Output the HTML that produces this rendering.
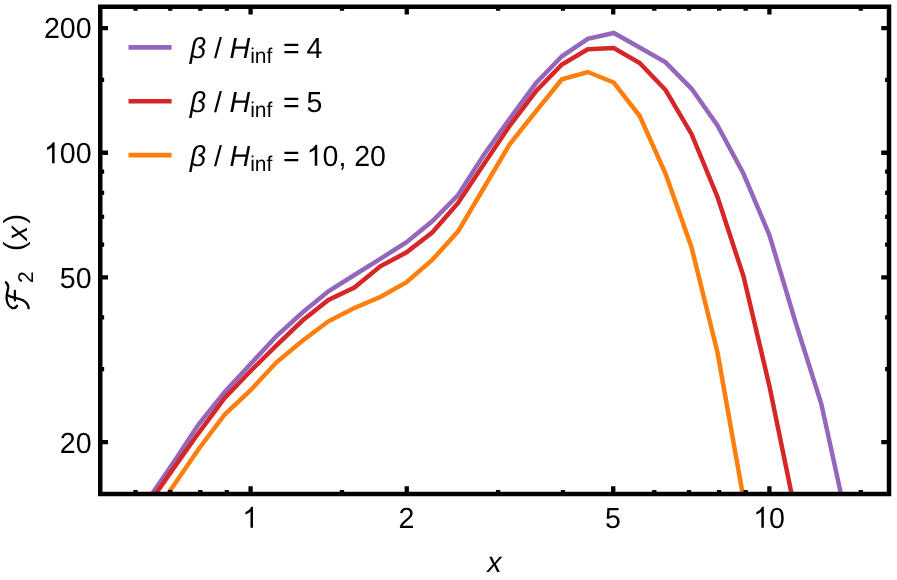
<!DOCTYPE html><html><head><meta charset="utf-8"><style>html,body{margin:0;padding:0;background:#fff}svg{display:block}text{text-rendering:geometricPrecision;font-family:"Liberation Sans",sans-serif;fill:#000}</style></head><body>
<svg width="897" height="580" viewBox="0 0 897 580">
<rect width="897" height="580" fill="#fff"/>
<defs><clipPath id="c"><rect x="100.25" y="6.75" width="788.75" height="487.25"/></clipPath></defs>
<g clip-path="url(#c)" fill="none" stroke-width="4.5" stroke-linejoin="miter" stroke-linecap="butt">
<polyline stroke="#9467bd" points="146.8,501.5 172.8,463.4 198.7,424.3 224.7,392.0 250.6,364.0 276.5,336.0 302.5,312.5 328.4,291.3 354.4,275.0 380.3,258.8 406.2,242.5 432.2,221.3 458.1,195.0 484.1,154.5 510.0,118.4 535.9,83.3 561.9,56.3 587.8,38.8 613.8,33.0 639.7,47.5 665.6,62.3 691.6,88.8 717.5,125.5 743.5,173.8 769.4,235.0 795.3,321.5 821.3,403.8 847.2,522.5"/>
<polyline stroke="#d62728" points="146.8,506.5 172.8,469.4 198.7,432.8 224.7,398.0 250.6,371.0 276.5,345.3 302.5,320.5 328.4,300.0 354.4,287.5 380.3,266.3 406.2,252.5 432.2,232.5 458.1,203.0 484.1,163.8 510.0,125.3 535.9,91.3 561.9,64.5 587.8,49.3 613.8,48.0 639.7,63.0 665.6,90.0 691.6,134.2 717.5,197.0 743.5,276.3 769.4,386.0 795.3,512.0"/>
<polyline stroke="#ff7f0e" points="146.8,524.0 172.8,486.7 198.7,449.0 224.7,414.5 250.6,390.2 276.5,362.3 302.5,340.7 328.4,321.3 354.4,308.0 380.3,297.0 406.2,282.5 432.2,260.0 458.1,231.3 484.1,187.5 510.0,143.8 535.9,111.3 561.9,79.3 587.8,72.0 613.8,82.5 639.7,116.0 665.6,173.8 691.6,247.5 717.5,352.5 743.5,498.5"/>
</g>
<g stroke="#000" stroke-width="4.3" fill="none">
<path d="M250.60 494.00v-7.75M250.60 6.75v7.75"/>
<path d="M406.77 494.00v-7.75M406.77 6.75v7.75"/>
<path d="M613.23 494.00v-7.75M613.23 6.75v7.75"/>
<path d="M769.40 494.00v-7.75M769.40 6.75v7.75"/>
<path d="M135.50 494.00v-3.90M135.50 6.75v3.90"/>
<path d="M170.24 494.00v-3.90M170.24 6.75v3.90"/>
<path d="M200.32 494.00v-3.90M200.32 6.75v3.90"/>
<path d="M226.86 494.00v-3.90M226.86 6.75v3.90"/>
<path d="M341.96 494.00v-3.90M341.96 6.75v3.90"/>
<path d="M498.13 494.00v-3.90M498.13 6.75v3.90"/>
<path d="M562.95 494.00v-3.90M562.95 6.75v3.90"/>
<path d="M654.30 494.00v-3.90M654.30 6.75v3.90"/>
<path d="M689.04 494.00v-3.90M689.04 6.75v3.90"/>
<path d="M719.12 494.00v-3.90M719.12 6.75v3.90"/>
<path d="M745.66 494.00v-3.90M745.66 6.75v3.90"/>
<path d="M860.76 494.00v-3.90M860.76 6.75v3.90"/>
<path d="M100.25 442.10h7.75M889.00 442.10h-7.75"/>
<path d="M100.25 277.35h7.75M889.00 277.35h-7.75"/>
<path d="M100.25 152.73h7.75M889.00 152.73h-7.75"/>
<path d="M100.25 28.10h7.75M889.00 28.10h-7.75"/>
<path d="M100.25 369.20h3.90M889.00 369.20h-3.90"/>
<path d="M100.25 317.47h3.90M889.00 317.47h-3.90"/>
<path d="M100.25 244.57h3.90M889.00 244.57h-3.90"/>
<path d="M100.25 216.86h3.90M889.00 216.86h-3.90"/>
<path d="M100.25 192.85h3.90M889.00 192.85h-3.90"/>
<path d="M100.25 171.67h3.90M889.00 171.67h-3.90"/>
<path d="M100.25 79.82h3.90M889.00 79.82h-3.90"/>
</g>
<rect x="100.25" y="6.75" width="788.75" height="487.25" fill="none" stroke="#000" stroke-width="4.5"/>
<path d="M128.5 47.40H171.6" stroke="#9467bd" stroke-width="4.6" fill="none"/>
<path d="M128.5 101.25H171.6" stroke="#d62728" stroke-width="4.6" fill="none"/>
<path d="M128.5 155.10H171.6" stroke="#ff7f0e" stroke-width="4.6" fill="none"/>
<g style="filter:grayscale(1)">
<path transform="translate(242.36,527.70) scale(0.01395,-0.01416)" d="M763 0H583V1147Q518 1085 412.5 1023Q307 961 223 930V1104Q374 1175 487 1276Q600 1377 647 1472H763Z" fill="#000"/>
<text transform="translate(398.53,527.70) scale(0.985,1)" font-size="29.0" text-anchor="start">2</text>
<text transform="translate(604.98,527.70) scale(0.985,1)" font-size="29.0" text-anchor="start">5</text>
<path transform="translate(753.21,527.70) scale(0.01395,-0.01416)" d="M763 0H583V1147Q518 1085 412.5 1023Q307 961 223 930V1104Q374 1175 487 1276Q600 1377 647 1472H763Z" fill="#000"/><text transform="translate(769.10,527.70) scale(0.985,1)" font-size="29.0" text-anchor="start">0</text>
<text transform="translate(59.83,452.85) scale(0.985,1)" font-size="29.0" text-anchor="start">20</text>
<text transform="translate(59.83,287.50) scale(0.985,1)" font-size="29.0" text-anchor="start">50</text>
<path transform="translate(43.94,163.18) scale(0.01395,-0.01416)" d="M763 0H583V1147Q518 1085 412.5 1023Q307 961 223 930V1104Q374 1175 487 1276Q600 1377 647 1472H763Z" fill="#000"/><text transform="translate(59.83,163.18) scale(0.985,1)" font-size="29.0" text-anchor="start">00</text>
<text transform="translate(43.94,38.25) scale(0.985,1)" font-size="29.0" text-anchor="start">200</text>
<text transform="translate(487.20,571.70) scale(0.985,1)" font-size="29.0" text-anchor="start" font-style="italic">x</text>
<text transform="translate(189.70,58.00) scale(0.985,1)" font-size="29.0" text-anchor="start" font-style="italic">β</text>
<text transform="translate(213.90,58.00) scale(0.985,1)" font-size="29.0" text-anchor="start">/</text>
<text transform="translate(229.60,58.00) scale(0.985,1)" font-size="29.0" text-anchor="start" font-style="italic">H</text>
<text transform="translate(250.20,62.80) scale(0.985,1)" font-size="21.3" text-anchor="start">inf</text>
<text transform="translate(283.00,58.00) scale(0.985,1)" font-size="29.0" text-anchor="start">=</text>
<text transform="translate(306.40,58.00) scale(0.985,1)" font-size="29.0" text-anchor="start">4</text>
<text transform="translate(189.70,111.85) scale(0.985,1)" font-size="29.0" text-anchor="start" font-style="italic">β</text>
<text transform="translate(213.90,111.85) scale(0.985,1)" font-size="29.0" text-anchor="start">/</text>
<text transform="translate(229.60,111.85) scale(0.985,1)" font-size="29.0" text-anchor="start" font-style="italic">H</text>
<text transform="translate(250.20,116.65) scale(0.985,1)" font-size="21.3" text-anchor="start">inf</text>
<text transform="translate(283.00,111.85) scale(0.985,1)" font-size="29.0" text-anchor="start">=</text>
<text transform="translate(306.40,111.85) scale(0.985,1)" font-size="29.0" text-anchor="start">5</text>
<text transform="translate(189.70,165.70) scale(0.985,1)" font-size="29.0" text-anchor="start" font-style="italic">β</text>
<text transform="translate(213.90,165.70) scale(0.985,1)" font-size="29.0" text-anchor="start">/</text>
<text transform="translate(229.60,165.70) scale(0.985,1)" font-size="29.0" text-anchor="start" font-style="italic">H</text>
<text transform="translate(250.20,170.50) scale(0.985,1)" font-size="21.3" text-anchor="start">inf</text>
<text transform="translate(283.00,165.70) scale(0.985,1)" font-size="29.0" text-anchor="start">=</text>
<path transform="translate(306.60,165.70) scale(0.01395,-0.01416)" d="M763 0H583V1147Q518 1085 412.5 1023Q307 961 223 930V1104Q374 1175 487 1276Q600 1377 647 1472H763Z" fill="#000"/><text transform="translate(322.49,165.70) scale(0.985,1)" font-size="29.0" text-anchor="start">0,</text>
<text transform="translate(354.20,165.70) scale(0.985,1)" font-size="29.0" text-anchor="start">20</text>
<text transform="translate(24.20,251.00) rotate(-90) scale(0.985,1)" font-size="29.0">(</text>
<text transform="translate(27.00,240.30) rotate(-90) scale(0.985,1)" font-size="29.0" font-style="italic">x</text>
<text transform="translate(24.20,223.40) rotate(-90) scale(0.985,1)" font-size="29.0">)</text>
<text transform="translate(32.60,283.00) rotate(-90) scale(0.985,1)" font-size="21.3">2</text>
</g>
<g fill="none" stroke="#000" stroke-width="2.3" stroke-linecap="round">
<path d="M5.9 282.3C7.6 283.8 8.6 285 8.2 288C7.6 291.5 6.3 295 6.6 298.5C6.9 302 8.5 306 11.5 307.6C13.8 308.6 16 307.5 17 305.8"/>
<path d="M7 295C12 298 19 298 23 300.3C26.5 302.3 28.2 305 28.7 308.2"/>
<path d="M14.9 291V300.4"/>
</g>
</svg></body></html>
